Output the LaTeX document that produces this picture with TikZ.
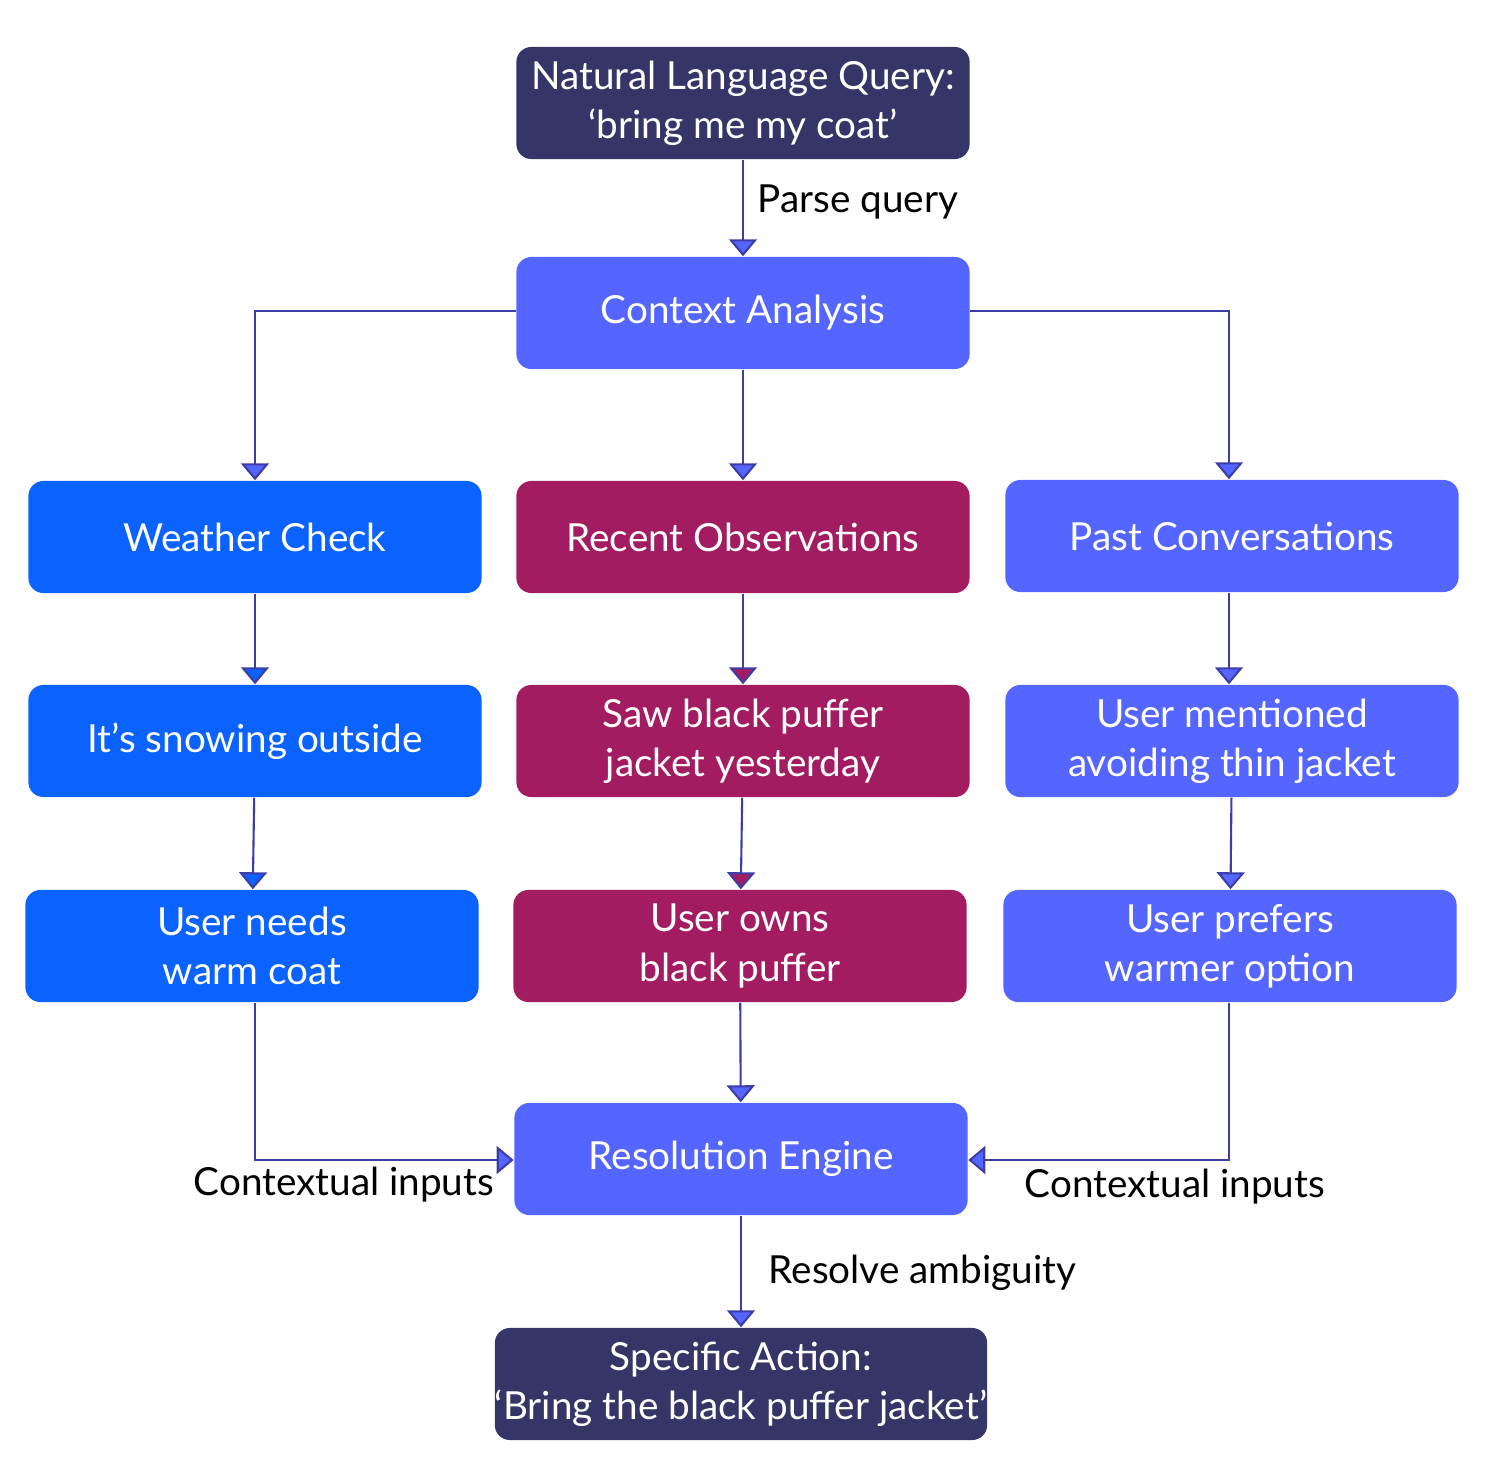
\documentclass[tikz,border=0pt]{standalone}
\usepackage{fontspec}
\setmainfont{Lato}
\usetikzlibrary{arrows.meta}
\definecolor{navy}{HTML}{363567}
\definecolor{periw}{HTML}{5565FF}
\definecolor{bright}{HTML}{0A62FF}
\definecolor{plum}{HTML}{A31C61}
\definecolor{ln}{HTML}{3D3DA8}
\begin{document}
\begin{tikzpicture}[x=0.01cm,y=-0.01cm,
 box/.style={rounded corners=0.15cm,minimum width=4.53cm,minimum height=1.12cm,text=white,align=center,font=\fontsize{11}{14}\selectfont,inner sep=0pt},
 ar/.style={draw=ln,line width=0.6pt,-{Triangle[length=0.17cm,width=0.28cm,fill=#1]}},
 lab/.style={font=\fontsize{11}{14}\selectfont,text=black,inner sep=0pt}]
\useasboundingbox (0,0) rectangle (1499,1478);
\node[box,fill=navy] (q) at (743,103) {Natural Language Query:\\‘bring me my coat’};
\node[box,fill=periw] (ca) at (743,313) {Context Analysis};
\node[box,fill=bright] (wc) at (255,537) {Weather Check};
\node[box,fill=plum] (ro) at (743,537) {Recent Observations};
\node[box,fill=periw] (pc) at (1232,536) {Past Conversations};
\node[box,fill=bright] (sn) at (255,741) {It’s snowing outside};
\node[box,fill=plum] (saw) at (743,741) {Saw black puffer\\jacket yesterday};
\node[box,fill=periw] (um) at (1232,741) {User mentioned\\avoiding thin jacket};
\node[box,fill=bright] (un) at (252,946) {User needs\\warm coat};
\node[box,fill=plum] (uo) at (740,946) {User owns\\black puffer};
\node[box,fill=periw] (up) at (1230,946) {User prefers\\warmer option};
\node[box,fill=periw] (re) at (741,1159) {Resolution Engine};
\node[box,fill=navy] (sa) at (741,1384) {Specific Action:\\‘Bring the black puffer jacket’};
\draw[ar=periw] (q) -- (ca);
\node[lab,anchor=west] (l1) at (757,202) {Parse query};
\coordinate (c1) at (255,311); \coordinate (c2) at (1229,311);
\draw[ar=periw] (ca.west|-c1) -- (c1) -- (wc.north-|c1);
\draw[ar=periw] (ca) -- (ro);
\draw[ar=periw] (ca.east|-c2) -- (c2) -- (pc.north-|c2);
\draw[ar=bright] (wc) -- (sn);
\draw[ar=bright] (sn) -- (un);
\draw[ar=plum] (ro) -- (saw);
\draw[ar=plum] (saw) -- (uo);
\draw[ar=periw] (pc.south-|c2) -- (um.north-|c2);
\draw[ar=periw] (um) -- (up);
\draw[ar=periw] (uo) -- (re);
\coordinate (d1) at (255,1160); \coordinate (d2) at (1229,1160);
\draw[ar=periw] (un.south-|d1) -- (d1) -- (re.west|-d1);
\draw[ar=periw] (up.south-|d2) -- (d2) -- (re.east|-d2);
\node[lab,anchor=west] (l2) at (193,1185) {Contextual inputs};
\node[lab,anchor=west] (l3) at (1024,1187) {Contextual inputs};
\draw[ar=periw] (re) -- (sa);
\node[lab,anchor=west] (l4) at (768,1273) {Resolve ambiguity};
\end{tikzpicture}
\end{document}
